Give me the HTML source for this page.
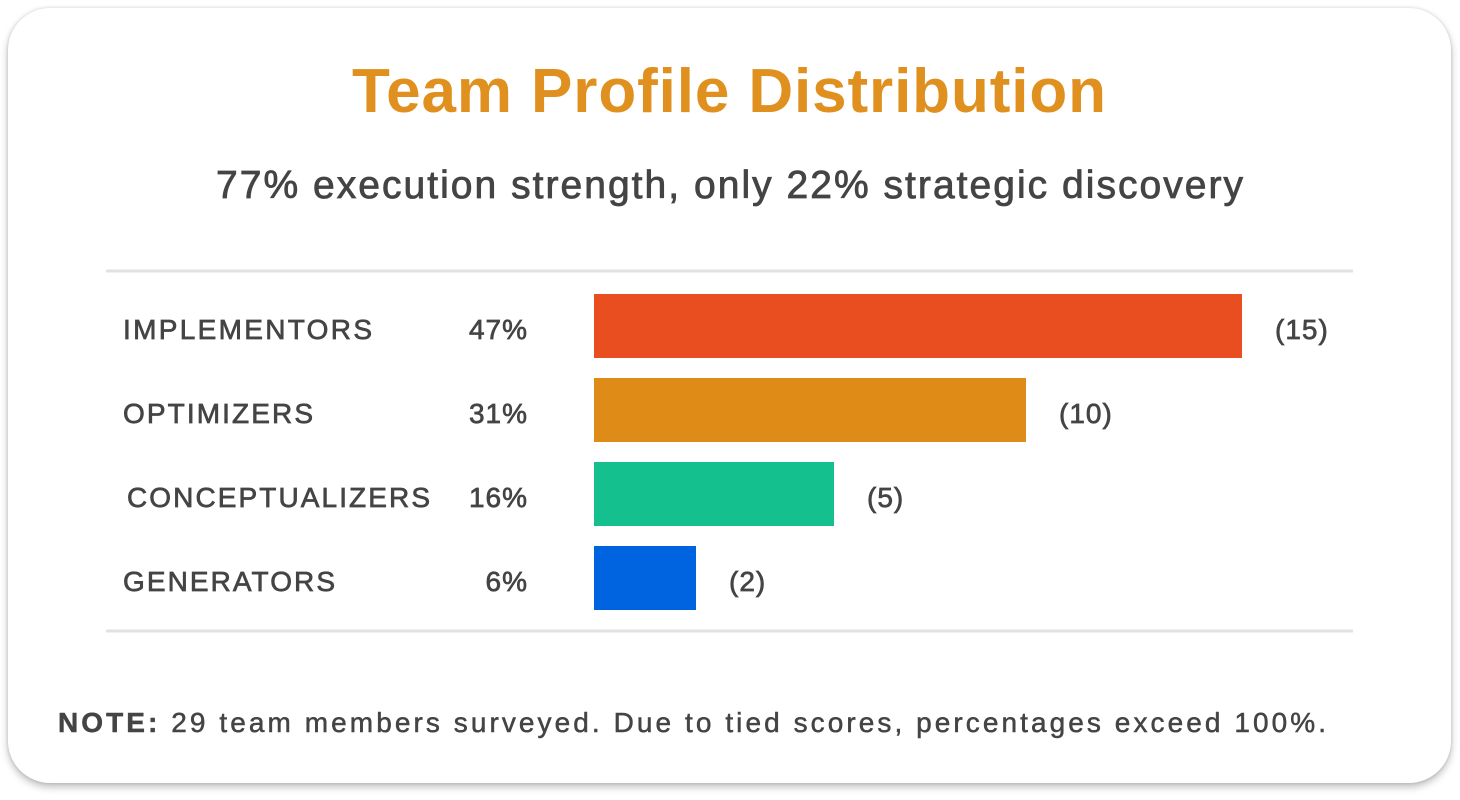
<!DOCTYPE html>
<html><head><meta charset="utf-8"><style>
body{margin:0;width:1460px;height:800px;background:#fff;font-family:"Liberation Sans",sans-serif;overflow:hidden}
.card{position:absolute;left:8px;top:8px;width:1443px;height:775px;background:#fff;border-radius:42px;box-shadow:0 4px 8px rgba(0,0,0,0.25),0 0 3px rgba(0,0,0,0.15)}
</style></head><body>
<div class="card"></div>
<svg width="1460" height="800" style="position:absolute;left:0;top:0">
<text x="352" y="112" textLength="754" lengthAdjust="spacing" font-size="62" font-weight="bold" fill="#E0901E" font-family="Liberation Sans, sans-serif">Team Profile Distribution</text>
<text x="216" y="198" textLength="1027" lengthAdjust="spacing" font-size="39" fill="#444" stroke="#444" stroke-width="0.8" font-family="Liberation Sans, sans-serif">77% execution strength, only 22% strategic discovery</text>
<line x1="106" x2="1353" y1="271" y2="271" stroke="#e2e2e2" stroke-width="3"/>
<line x1="106" x2="1353" y1="631" y2="631" stroke="#e2e2e2" stroke-width="3"/>
<g id="bars"></g>
<text x="58" y="732" textLength="1268" lengthAdjust="spacing" font-size="28" fill="#444" stroke="#444" stroke-width="0.5" font-family="Liberation Sans, sans-serif"><tspan font-weight="bold">NOTE:</tspan> 29 team members surveyed. Due to tied scores, percentages  exceed 100%.</text>
</svg>
<script>
const categories=["IMPLEMENTORS","OPTIMIZERS","CONCEPTUALIZERS","GENERATORS"];
const percents=[47,31,16,6];
const counts=[15,10,5,2];
const colors=["#E84E1F","#DF8B17","#14C08D","#0063E0"];
const labelX=[123,123,127,123];
const labelW=[249,190,303,212];
const ns="http://www.w3.org/2000/svg";
const g=document.getElementById('bars');
const x0=594, unit=43.2, top0=294, pitch=84, bh=64;
function xs(v){return v*unit;}
function yTop(i){return top0+i*pitch;}
function mk(tag,attrs,txt){const e=document.createElementNS(ns,tag);for(const k in attrs)e.setAttribute(k,attrs[k]);if(txt!=null)e.textContent=txt;g.appendChild(e);return e;}
categories.forEach((c,i)=>{
  const w=xs(counts[i]), yc=yTop(i)+bh/2+13;
  const wd=Math.max(w, i==2?240:(i==3?102:w));
  const l=mk('text',{x:labelX[i],y:yc,'font-size':28,fill:'#444',stroke:'#444','stroke-width':0.7,textLength:labelW[i],lengthAdjust:'spacing'},c);
  
  
  const p=mk('text',{x:528,y:yc,'font-size':28,fill:'#444',stroke:'#444','stroke-width':0.7,'text-anchor':'end','letter-spacing':'1'},percents[i]+'%');
  
  
  const r=mk('rect',{x:x0,y:yTop(i),width:wd,height:bh,fill:colors[i]});
  
  
  const t=mk('text',{x:x0+wd+33,y:yc,'font-size':28,fill:'#444',stroke:'#444','stroke-width':0.7,'letter-spacing':'1'},'('+counts[i]+')');
  
  
});
</script>
</body></html>
